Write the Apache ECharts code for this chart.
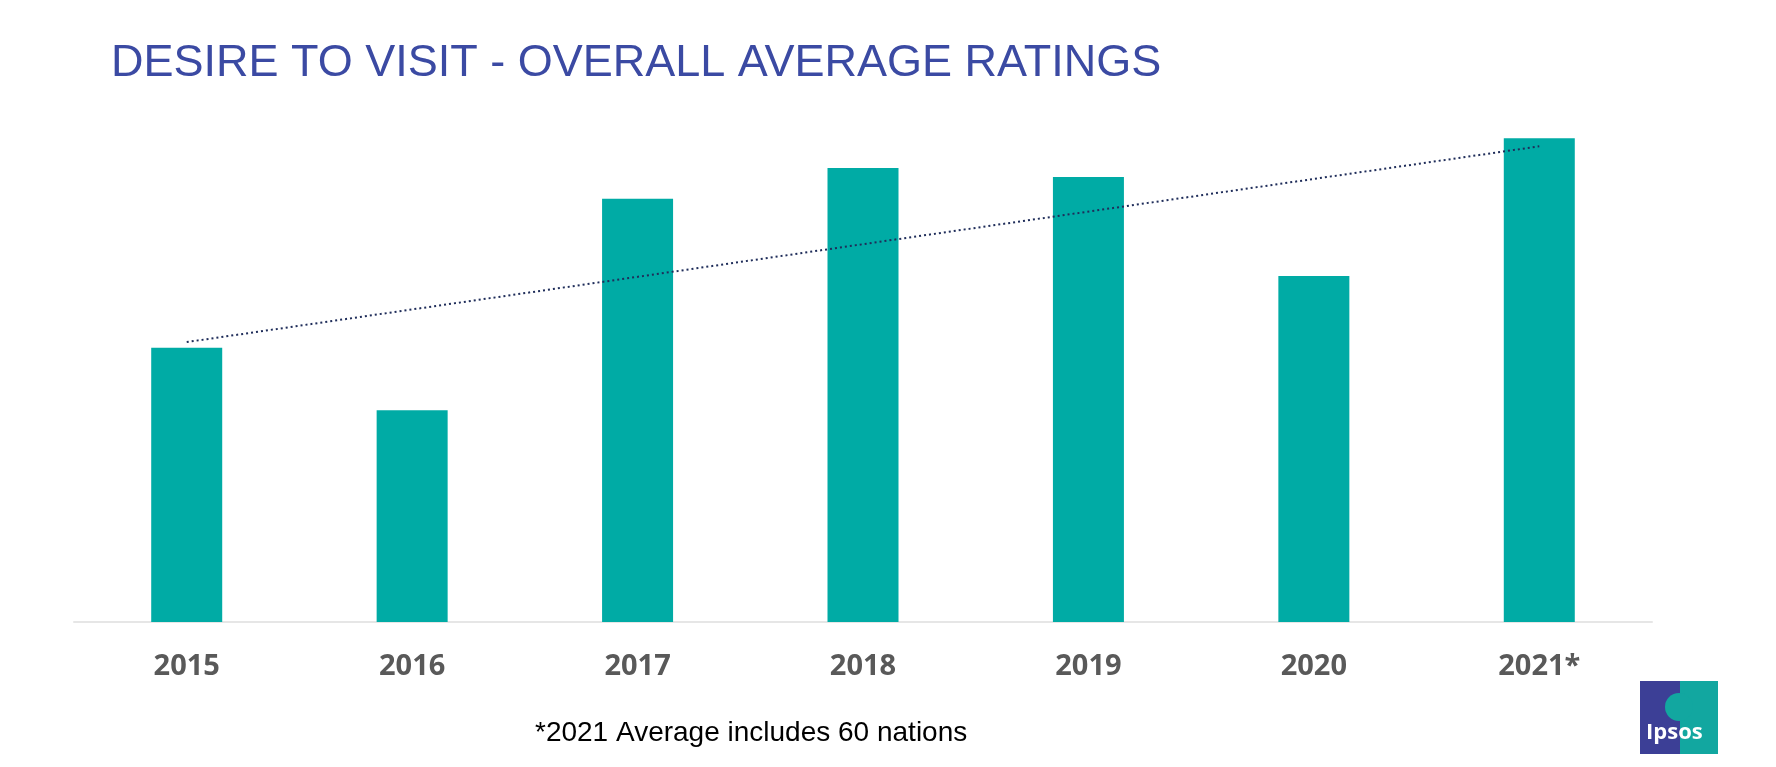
<!DOCTYPE html>
<html>
<head>
<meta charset="utf-8">
<script src="https://cdn.jsdelivr.net/npm/echarts@6/dist/echarts.min.js"></script>
<style>html,body{margin:0;padding:0;background:#fff}#chart{width:1776px;height:767px}</style>
</head>
<body>
<div id="chart"></div>
<script>
const years = ['2015', '2016', '2017', '2018', '2019', '2020', '2021*'];
const ratings = [241, 186, 372, 399, 391, 304, 425];
// trendline end points
const trendStart = 246;
const trendEnd = 418;

const chart = echarts.init(document.getElementById('chart'));
chart.setOption({
    animation: false,
    title: {
        text: 'DESIRE TO VISIT - OVERALL AVERAGE RATINGS',
        left: 106, top: 36,
        textStyle: { color: '#3b4aa3', fontSize: 45, fontWeight: 'normal', fontFamily: 'Liberation Sans' }
    },
    grid: { left: 74, right: 124, top: 53, bottom: 145 },
    xAxis: {
        type: 'category', data: years,
        axisLine: { lineStyle: { color: '#e6e6e6', width: 2 } },
        axisTick: { show: false },
        axisLabel: { color: '#595959', fontSize: 29, fontWeight: 'bold', margin: 30, fontFamily: 'Open Sans' }
    },
    yAxis: { type: 'value', min: 0, max: 500, show: false, splitLine: { show: false } },
    series: [
        { type: 'bar', data: ratings, barWidth: 71, itemStyle: { color: '#00aba5' } },
        {
            type: 'line', symbol: 'none',
            data: [
                [years[0], trendStart],
                [years[years.length - 1], trendEnd]
            ],
            lineStyle: { color: '#1f2d5a', width: 2, type: [2, 3] }
        }
    ],
    graphic: [
        {
            type: 'text', left: 535, top: 719,
            style: { text: '*2021 Average includes 60 nations', fontSize: 28, fill: '#000', fontFamily: 'Liberation Sans' }
        },
        { type: 'rect', left: 1640, top: 681, shape: { width: 40, height: 73 }, style: { fill: '#3c3f96' } },
        { type: 'rect', left: 1680, top: 681, shape: { width: 38, height: 73 }, style: { fill: '#12a7a0' } },
        { type: 'circle', left: 1665, top: 693, shape: { r: 14 }, style: { fill: '#12a7a0' } },
        {
            type: 'text', left: 1646, top: 722,
            style: { text: 'Ipsos', fontSize: 22, fontWeight: 'bold', fill: '#fff', fontFamily: 'Open Sans' }
        }
    ]
});
window.addEventListener('resize', () => chart.resize());
</script>
</body>
</html>
